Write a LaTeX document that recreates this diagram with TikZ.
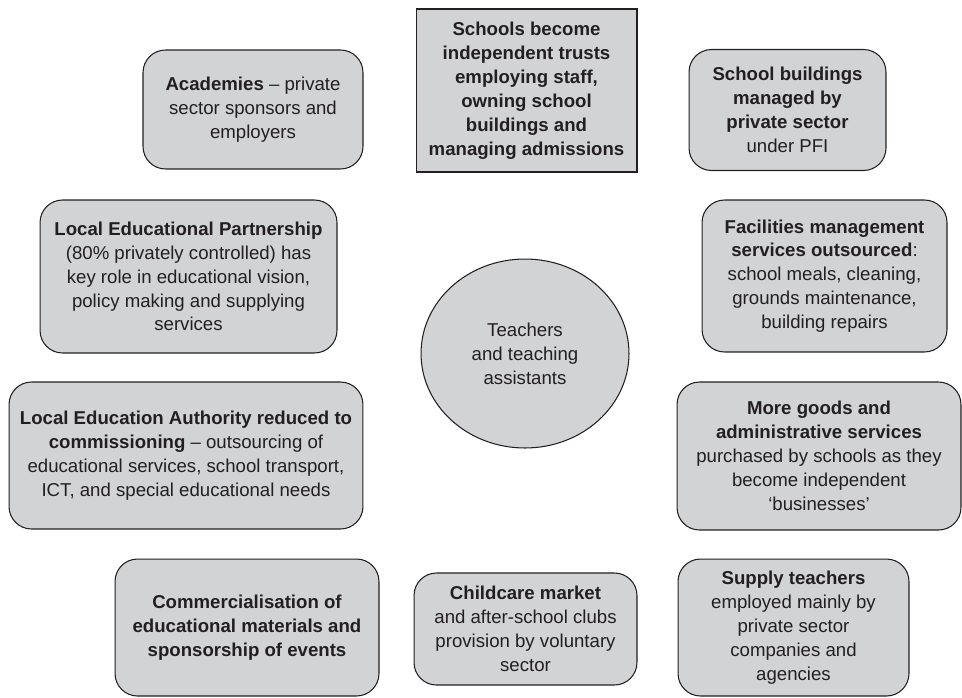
\documentclass[tikz,border=0pt]{standalone}
\usepackage{fontspec}
\setmainfont{Liberation Sans}
\usetikzlibrary{shapes.geometric}
\definecolor{boxgray}{HTML}{D1D3D4}
\definecolor{inkgray}{HTML}{231F20}

\begin{document}
\begin{tikzpicture}[x=0.02cm, y=-0.02cm,
    every node/.style={font=\fontsize{10.6}{13.6}\selectfont, text=inkgray, align=center, inner sep=0pt},
    pbox/.style={draw=inkgray, fill=boxgray, line width=0.6pt, rounded corners=0.45cm},
    sqbox/.style={draw=inkgray, fill=boxgray, line width=0.6pt},
    hub/.style={ellipse, draw=inkgray, fill=boxgray, line width=0.6pt}]
  \useasboundingbox (0,0) rectangle (962,697);
  % Top row
  \node[pbox, minimum width=4.4cm, minimum height=2.38cm] (acad) at (253,109.5)
    {\textbf{Academies} -- private\\sector sponsors and\\employers};
  \node[sqbox, minimum width=4.42cm, minimum height=3.26cm] (trusts) at (526.5,90.5)
    {\textbf{Schools become}\\\textbf{independent trusts}\\\textbf{employing staff,}\\\textbf{owning school}\\\textbf{buildings and}\\\textbf{managing admissions}};
  \node[pbox, minimum width=3.94cm, minimum height=2.42cm] (pfi) at (787.5,110)
    {\textbf{School buildings}\\\textbf{managed by}\\\textbf{private sector}\\under PFI};
  % Second row
  \node[pbox, minimum width=5.94cm, minimum height=3.06cm] (lep) at (188.5,276.5)
    {\textbf{Local Educational Partnership}\\(80\% privately controlled) has\\key role in educational vision,\\policy making and supplying\\services};
  \node[pbox, minimum width=4.9cm, minimum height=3.04cm] (fm) at (824.5,276)
    {\textbf{Facilities management}\\\textbf{services outsourced}:\\school meals, cleaning,\\grounds maintenance,\\building repairs};
  % Centre
  \node[hub, minimum width=4.16cm, minimum height=3.78cm] (staff) at (525,353.5)
    {Teachers\\and teaching\\assistants};
  % Third row
  \node[pbox, minimum width=7.08cm, minimum height=2.94cm] (lea) at (186,455.5)
    {\textbf{Local Education Authority reduced to}\\\textbf{commissioning} -- outsourcing of\\educational services, school transport,\\ICT, and special educational needs};
  \node[pbox, minimum width=5.68cm, minimum height=2.96cm] (goods) at (819,456)
    {\textbf{More goods and}\\\textbf{administrative services}\\purchased by schools as they\\become independent\\‘businesses’};
  % Bottom row
  \node[pbox, minimum width=5.28cm, minimum height=2.74cm] (comm) at (247,627.5)
    {\textbf{Commercialisation of}\\\textbf{educational materials and}\\\textbf{sponsorship of events}};
  \node[pbox, minimum width=4.46cm, minimum height=2.24cm] (child) at (525.5,629)
    {\textbf{Childcare market}\\and after-school clubs\\provision by voluntary\\sector};
  \node[pbox, minimum width=4.62cm, minimum height=2.74cm] (supply) at (793.5,627.5)
    {\textbf{Supply teachers}\\employed mainly by\\private sector\\companies and\\agencies};
\end{tikzpicture}
\end{document}
